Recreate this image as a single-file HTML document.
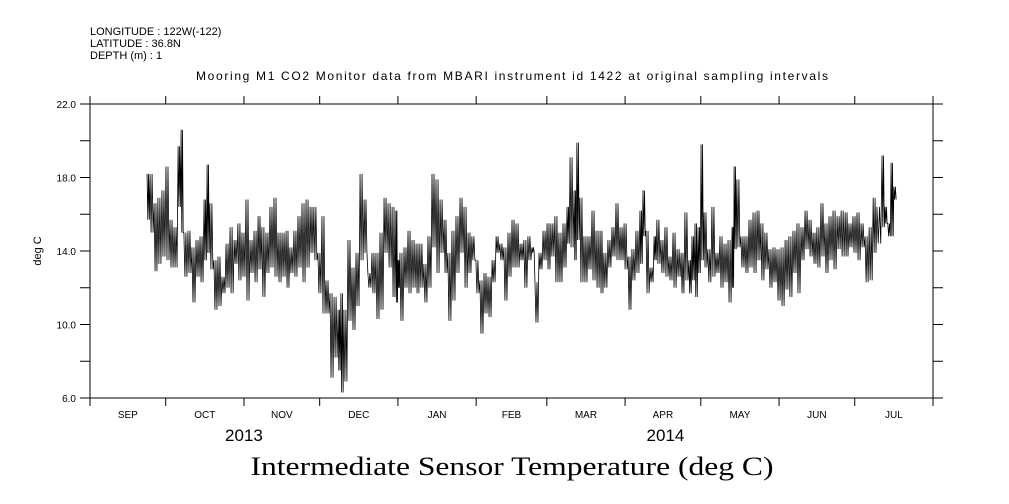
<!DOCTYPE html>
<html><head><meta charset="utf-8"><style>
html,body{margin:0;padding:0;background:#fff;}
svg{display:block;}
text{font-family:"Liberation Sans",sans-serif;fill:#000;}
</style></head><body>
<svg id="chart" width="1009" height="504" viewBox="0 0 1009 504" xmlns="http://www.w3.org/2000/svg">
<g font-size="11">
<text x="90" y="35">LONGITUDE : 122W(-122)</text>
<text x="90" y="47">LATITUDE : 36.8N</text>
<text x="90" y="59">DEPTH (m) : 1</text>
</g>
<text x="512" y="80" font-size="12" text-anchor="middle" textLength="632">Mooring M1 CO2 Monitor data from MBARI instrument id 1422 at original sampling intervals</text>
<text x="0" y="0" font-size="11" text-anchor="middle" transform="translate(41,251) rotate(-90)">deg C</text>
<text x="512" y="475" font-size="26" text-anchor="middle" style="font-family:'Liberation Serif',serif" textLength="523" lengthAdjust="spacingAndGlyphs">Intermediate Sensor Temperature (deg C)</text>
<g id="axes"></g>
<path id="series" fill="none" stroke="#000" stroke-width="0.8"/>
</svg>
<script>
const monthLabels=["SEP","OCT","NOV","DEC","JAN","FEB","MAR","APR","MAY","JUN","JUL"];
const monthStarts=[0,30,61,91,122,153,181,212,242,273,303,334];
const yTicks=[6,8,10,12,14,16,18,20,22];
const yLabels=["6.0","","10.0","","14.0","","18.0","","22.0"];
const yearLabels=["2013","2014"];
const yearDays=[61,228];
// days since 2013-09-01
const days=[22.6,23.8,25.4,26.9,28.5,30.1,31.7,33.3,34.9,36.1,37.2,38.8,40.4,42.0,43.6,45.2,46.4,47.5,49.1,50.7,52.3,53.9,55.5,57.1,58.6,60.2,61.8,63.4,65.0,66.6,68.1,69.7,71.3,72.9,74.5,76.1,77.7,79.2,80.8,82.4,84.0,85.6,87.2,88.7,90.3,91.9,93.5,95.1,96.7,98.3,99.4,100.6,102.2,103.8,105.4,107.0,108.6,110.1,111.7,113.3,114.9,116.5,118.1,119.7,121.2,122.0,122.8,124.4,126.0,127.6,129.2,130.7,132.3,133.9,135.5,137.1,138.7,140.3,141.8,143.4,145.0,146.6,148.2,149.8,151.3,152.9,154.5,156.1,157.7,159.3,160.9,162.4,164.0,165.6,167.2,168.8,170.4,171.9,173.5,175.1,176.3,177.9,179.5,181.1,182.6,184.2,185.8,187.4,189.0,190.2,191.8,192.9,194.1,195.7,197.3,198.9,200.5,202.1,203.6,205.2,206.8,208.4,210.0,211.6,213.2,214.7,216.3,217.9,219.1,220.3,221.9,223.5,224.6,226.2,227.8,229.4,231.0,232.6,234.2,235.7,237.3,238.5,239.7,240.9,242.1,243.3,244.8,246.4,248.0,249.6,251.2,252.8,254.4,255.2,256.3,257.9,259.5,261.1,262.7,264.3,265.8,267.4,269.0,270.6,272.2,273.8,275.4,276.9,278.5,280.1,281.7,283.3,284.9,286.5,288.0,289.6,291.2,292.8,294.4,296.0,297.6,299.2,300.7,302.3,303.9,305.5,307.1,308.7,310.3,311.8,313.8,315.0,316.1,317.4,318.5];
const highs=[18.2,18.2,16.6,16.9,17.3,18.6,15.7,15.3,19.7,20.6,15.0,15.1,14.2,14.6,14.8,16.8,18.7,16.6,13.5,13.7,12.6,14.4,15.3,14.6,15.5,15.0,16.8,14.6,15.1,15.9,15.3,15.0,16.4,16.9,15.0,15.0,15.1,14.2,15.1,15.9,16.6,16.8,16.4,16.4,13.9,15.9,12.4,11.7,11.5,10.8,11.7,10.8,14.6,13.1,13.9,18.2,16.8,12.8,13.9,13.9,15.0,16.9,16.6,16.4,16.2,13.5,13.9,14.2,15.1,14.6,14.4,14.4,13.3,14.8,18.2,17.9,16.8,15.7,13.9,15.1,15.9,16.9,16.4,15.0,14.8,13.5,12.4,12.8,12.6,13.5,14.8,14.4,14.2,15.0,15.7,15.5,14.4,14.6,14.8,14.2,12.3,13.9,15.1,15.5,15.5,15.9,15.0,15.5,16.4,19.1,17.3,19.9,16.9,14.8,14.8,16.2,15.1,15.1,13.9,14.6,15.3,16.6,15.3,15.5,13.7,14.1,15.1,16.2,17.3,15.1,13.1,14.8,15.7,14.6,15.3,13.7,15.0,14.1,13.9,16.1,13.5,14.8,15.5,15.3,19.8,16.1,14.1,16.4,13.9,14.8,14.4,14.6,15.3,18.6,17.9,14.8,14.8,15.7,16.1,16.2,15.5,15.0,14.1,14.2,14.1,14.2,14.6,14.8,15.1,15.5,15.3,16.2,15.7,15.0,15.3,16.6,15.5,15.9,16.2,15.9,16.2,16.1,15.5,15.9,16.1,15.5,14.8,15.3,16.9,16.4,19.2,16.4,15.5,18.8,17.5];
const lows=[15.7,15.0,12.9,13.3,13.7,13.5,13.1,13.1,16.4,15.0,12.6,12.8,11.2,12.6,12.3,13.5,13.9,13.0,10.8,11.0,11.7,12.0,11.7,13.3,12.4,12.6,11.3,12.8,12.3,13.0,11.5,12.8,13.1,12.6,12.3,12.6,12.0,12.8,12.6,13.1,12.3,13.1,13.9,13.5,11.7,10.6,10.6,7.1,8.2,7.5,6.3,6.9,10.2,9.7,11.0,13.5,13.9,12.0,11.7,10.3,10.8,13.9,13.1,11.5,11.2,12.0,10.2,12.0,11.7,12.0,11.7,12.0,11.2,12.0,14.2,12.8,13.9,12.8,10.2,11.3,12.8,13.9,12.0,12.8,13.5,11.7,9.5,10.6,10.4,12.3,13.9,13.5,11.3,12.6,13.1,13.1,13.5,12.0,13.5,13.9,10.1,13.0,13.5,13.0,13.7,12.3,12.3,13.1,14.4,14.2,13.5,14.6,12.3,12.3,13.0,12.4,12.0,11.7,12.0,13.1,13.7,13.5,13.5,13.0,10.8,12.4,12.8,13.3,14.8,11.7,12.3,13.5,13.3,12.8,12.6,12.4,12.0,12.6,11.7,12.4,11.7,12.4,11.5,12.8,13.5,13.1,12.3,12.6,12.8,12.0,12.3,11.2,12.0,14.1,14.2,13.1,12.8,13.1,12.8,13.5,12.4,13.0,12.0,12.3,11.3,11.0,11.9,11.5,12.8,11.7,13.5,14.1,13.7,13.3,13.1,13.7,12.8,13.5,13.0,14.1,13.7,13.7,14.2,13.9,13.5,14.2,12.3,12.4,13.9,14.4,15.3,15.5,14.8,14.8,16.8];

const X0=90,X1=933,Y0=398,Y1=104,DMAX=334;
const xS=d=>X0+(d/DMAX)*(X1-X0);
const yS=v=>Y0-(v-6)/16*(Y0-Y1);
const NS="http://www.w3.org/2000/svg";
const axes=document.getElementById('axes');
function mk(tag,attrs){const e=document.createElementNS(NS,tag);for(const k in attrs)e.setAttribute(k,attrs[k]);axes.appendChild(e);return e;}
const frame=mk('rect',{x:X0,y:Y1,width:X1-X0,height:Y0-Y1,fill:'none',stroke:'#000','stroke-width':1});


yTicks.forEach((v,i)=>{
  const y=yS(v);
  const t1=mk('line',{x1:X0-10,x2:X0,y1:y,y2:y,stroke:'#000'});
  
  
  const t2=mk('line',{x1:X1,x2:X1+10,y1:y,y2:y,stroke:'#000'});
  
  
  if(yLabels[i]){
    const t=mk('text',{x:X0-14,y:y+4,'font-size':10,'text-anchor':'end'});
    t.textContent=yLabels[i];
    
    
  }
});
monthStarts.forEach(d=>{
  const x=xS(d);
  const a=mk('line',{x1:x,x2:x,y1:Y1-8,y2:Y1,stroke:'#000'});
  
  
  const b=mk('line',{x1:x,x2:x,y1:Y0,y2:Y0+8,stroke:'#000'});
  
  
});
monthLabels.forEach((m,i)=>{
  const x=xS((monthStarts[i]+monthStarts[i+1])/2);
  const t=mk('text',{x:x,y:418,'font-size':10,'text-anchor':'middle'});
  t.textContent=m;
  
  
});
yearLabels.forEach((yl,i)=>{
  const t=mk('text',{x:xS(yearDays[i]),y:441,'font-size':17,'text-anchor':'middle'});
  t.textContent=yl;
  
  
});
let p="";
for(let i=0;i<days.length;i++){
  const d=days[i], w=(i<days.length-1?days[i+1]-d:1.2);
  const pts=[[d,highs[i]],[d+w/4,lows[i]],[d+w/2,highs[i]],[d+3*w/4,lows[i]]];
  pts.forEach((q,j)=>{p+=(i===0&&j===0?"M":"L")+xS(q[0]).toFixed(2)+","+yS(q[1]).toFixed(2);});
}
document.getElementById('series').setAttribute('d',p);
</script>
</body></html>
